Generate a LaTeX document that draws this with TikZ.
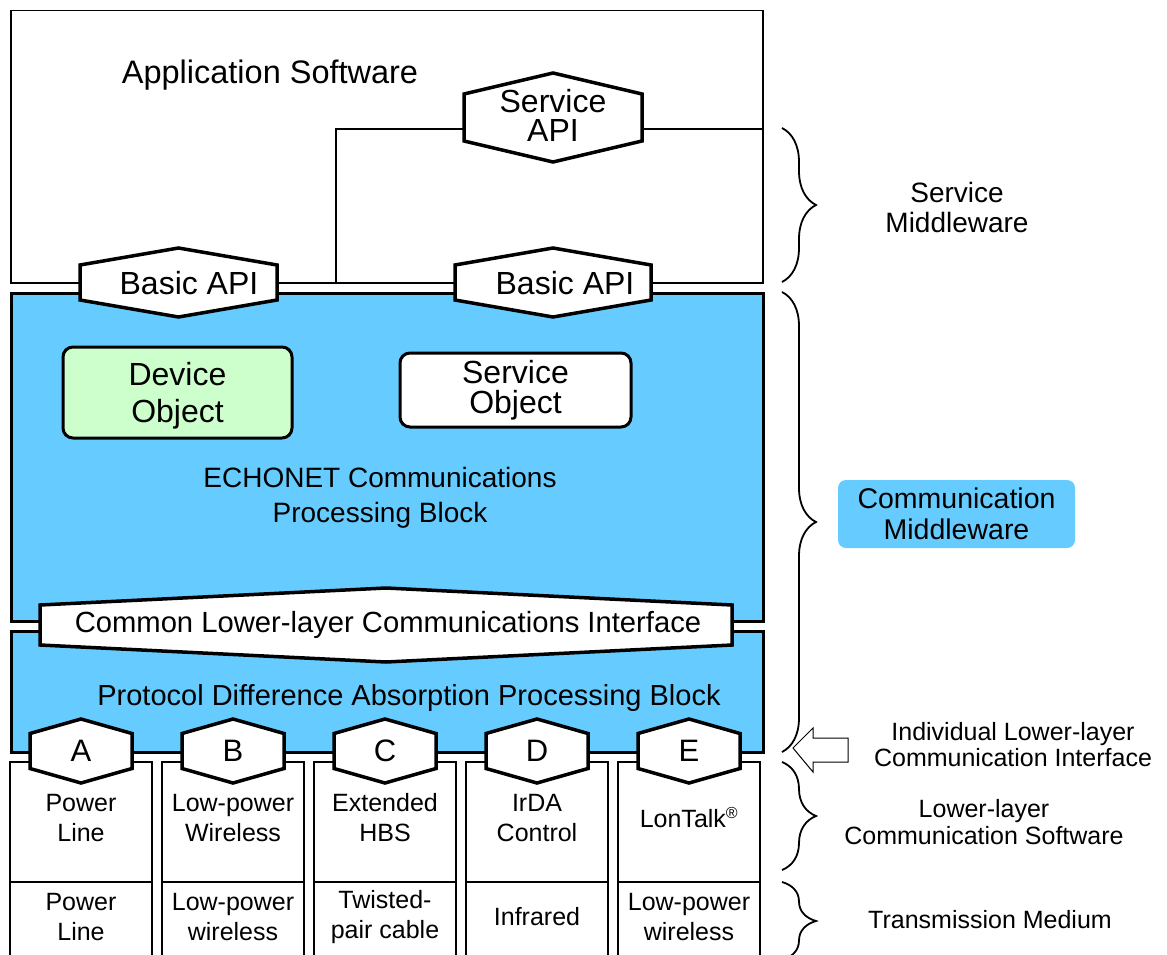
\documentclass[tikz,border=0pt]{standalone}
\usepackage{fontspec}
\setmainfont{Liberation Sans}
\usetikzlibrary{decorations.pathreplacing}

\definecolor{echoblue}{HTML}{66CCFF}
\definecolor{objgreen}{HTML}{CCFFCC}

% font size and line distance
\newcommand{\fs}[2]{\fontsize{#1}{#2}\selectfont}
% flat hexagon: centre x, centre y, half width, half side, half height
\newcommand{\hexshape}[5]{%
  \filldraw[hexline] (#1-#3,#2-#4) -- (#1,#2-#5) -- (#1+#3,#2-#4)
    -- (#1+#3,#2+#4) -- (#1,#2+#5) -- (#1-#3,#2+#4) -- cycle;}

\tikzset{
  hexline/.style={fill=white,draw=black,line width=3.5pt,line join=miter},
  block/.style={draw,line width=2.5pt,fill=echoblue,anchor=north west,inner sep=0},
  lbl/.style={align=center,inner sep=0},
  obj/.style={draw,line width=3pt,rounded corners=10pt,align=center,inner sep=0,font=\fs{32}{36}},
  brc/.style={decorate,decoration={brace,amplitude=34pt},line width=1.8pt},
}

\begin{document}
\begin{tikzpicture}[x=1pt,y=-1pt]
  \useasboundingbox (0,0) rectangle (1167,955);

  %Application Software
  \node[draw,line width=1.5pt,anchor=north west,inner sep=0,minimum width=752,minimum height=272] (app) at (10,10) {};
  \node[lbl,font=\fs{32.5}{36}] (apptxt) at (270,75) {Application Software};

  %blaa blokke
  \node[block,minimum width=752,minimum height=328] (echo) at (10,292) {};
  \node[block,minimum width=752,minimum height=121] (pdab) at (10,630) {};

  %objekter
  \node[obj,fill=objgreen,minimum width=229,minimum height=91,text depth=0pt] (devobj) at (177.5,392.5) {Device\\[1pt]Object};
  \node[obj,fill=white,minimum width=231,minimum height=74] (svcobj) at (515.5,390) {Service\\[-6pt]Object};
  \node[lbl,font=\fs{28}{35}] (echotxt) at (380,498) {ECHONET Communications\\Processing Block};
  \node[lbl,font=\fs{29}{32}] (pdabtxt) at (409,698) {Protocol Difference Absorption Processing Block};

  %Service API og linjer
  \hexshape{553}{117.5}{89}{23.5}{44.5}
  \node[lbl,minimum width=178,font=\fs{32}{29}] (sapi) at (553,115) {Service\\API};
  \coordinate (join) at (336,282);
  \draw[line width=1.5pt] (sapi.west) ++(0,14) -| (join);
  \draw[line width=1.5pt] (sapi.east) ++(0,14) -- ++(120,0);

  %Basic API
  \hexshape{178.5}{282.5}{98.5}{17.5}{34.5}
  \node[lbl,font=\fs{32}{36}] (bapi1) at (189,283) {Basic API};
  \hexshape{553}{282.5}{98}{17.5}{34.5}
  \node[lbl,font=\fs{32}{36}] (bapi2) at (565,283) {Basic API};

  %Common Lower-layer Communications Interface
  \hexshape{386}{625}{346}{20}{37}
  \node[lbl,font=\fs{29.2}{32}] (clci) at (388,625) {Common Lower-layer Communications Interface};

  %nederste celler
  \foreach \i in {0,...,4}{
    \draw[line width=2.5pt] (10+152*\i,762) rectangle (152+152*\i,965);
    \draw[line width=2.5pt] (10+152*\i,882) -- (152+152*\i,882);
  }
  \foreach \i/\ltr in {0/A,1/B,2/C,3/D,4/E}{
    \hexshape{81+152*\i}{751}{51}{17.5}{32}
    \node[lbl,font=\fs{31}{36}] (hex\ltr) at (81+152*\i,751) {\ltr};
  }
  \foreach \i/\up/\dn in {0/{Power\\Line}/{Power\\Line},
                          1/{Low-power\\Wireless}/{Low-power\\wireless},
                          2/{Extended\\HBS}/{Twisted-\\pair cable},
                          3/{IrDA\\Control}/{Infrared},
                          4/{LonTalk\textsuperscript{\fs{16}{16}\textregistered}}/{Low-power\\wireless}}{
    \node[lbl,font=\fs{25}{30}] (up\i) at (81+152*\i,818) {\up};
    \node[lbl,font=\fs{25}{30}] (dn\i) at (81+152*\i,917) {\dn};
  }

  %klammer
  \draw[brc] (782,128) -- (782,282);
  \draw[brc] (782,292) -- (782,752);
  \draw[brc] (782,762) -- (782,870);
  \draw[brc] (782,882) -- (782,960);

  %pil
  \draw[line width=1pt] (793,748) -- (813,728) -- (813,738) -- (848,738) -- (848,762) -- (813,762) -- (813,772) -- cycle;

  %tekst til hoejre
  \node[lbl,font=\fs{28}{30}] (smw) at (957,207) {Service\\Middleware};
  \node[lbl,fill=echoblue,rounded corners=8pt,minimum width=237,minimum height=68,font=\fs{28.5}{31}] (cmw) at (956.5,514) {Communication\\Middleware};
  \node[lbl,font=\fs{25}{26}] (illci) at (1013,745) {Individual Lower-layer\\Communication Interface};
  \node[lbl,font=\fs{25}{27}] (llcs) at (984,822) {Lower-layer\\Communication Software};
  \node[lbl,font=\fs{25}{30}] (tm) at (990,920) {Transmission Medium};
\end{tikzpicture}
\end{document}
